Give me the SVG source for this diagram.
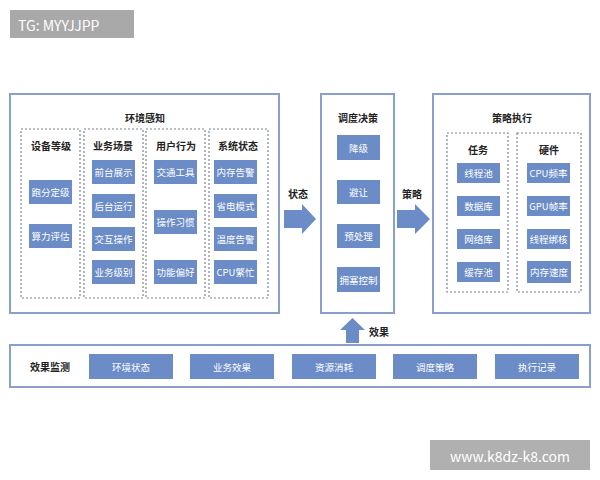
<svg xmlns="http://www.w3.org/2000/svg" width="600" height="480" viewBox="0 0 600 480">
<style>
text{font-family:"Noto Sans CJK SC","Liberation Sans",sans-serif;}
.frame{fill:#fff;stroke:#8aa0cc;stroke-width:2}
.dash{fill:none;stroke:#7d8590;stroke-width:1.2;stroke-dasharray:2,2}
.b{fill:#6b8cc7}
.bt{fill:#fff;font-size:9.5px;text-anchor:middle;dominant-baseline:central}
.h{fill:#222;font-size:10px;font-weight:bold;text-anchor:middle;dominant-baseline:central}
.arr{fill:#6b8cc7}
</style>
<rect width="600" height="480" fill="#fff"/>
<g id="watermark1"><rect x="10" y="10" width="124" height="28" fill="#a9a9a9"/><text x="18" y="25" font-size="14" fill="#fff" dominant-baseline="central">TG: MYYJJPP</text></g>
<g id="watermark2"><rect x="430" y="440" width="160" height="30" fill="#b0b0b0"/><text x="510" y="456" font-size="14" fill="#fff" text-anchor="middle" dominant-baseline="central">www.k8dz-k8.com</text></g>

<g id="env">
<rect class="frame" x="10" y="94" width="269" height="219"/>
<text class="h" x="145" y="117" font-size="11">环境感知</text>
<rect class="dash" x="21" y="129" width="59" height="169"/>
<rect class="dash" x="84" y="129" width="59" height="169"/>
<rect class="dash" x="146" y="129" width="59" height="169"/>
<rect class="dash" x="209" y="129" width="59" height="169"/>
<text class="h" x="51" y="145">设备等级</text>
<text class="h" x="113" y="145">业务场景</text>
<text class="h" x="176" y="145">用户行为</text>
<text class="h" x="238" y="145">系统状态</text>
<rect class="b" x="29" y="180" width="43" height="24"/><text class="bt" x="50.5" y="192">跑分定级</text>
<rect class="b" x="29" y="224" width="43" height="24"/><text class="bt" x="50.5" y="236">算力评估</text>
<rect class="b" x="92" y="160" width="43" height="24"/><text class="bt" x="113.5" y="172">前台展示</text>
<rect class="b" x="92" y="194" width="43" height="24"/><text class="bt" x="113.5" y="206">后台运行</text>
<rect class="b" x="92" y="227" width="43" height="24"/><text class="bt" x="113.5" y="239">交互操作</text>
<rect class="b" x="92" y="260" width="43" height="24"/><text class="bt" x="113.5" y="272">业务级别</text>
<rect class="b" x="154" y="160" width="43" height="24"/><text class="bt" x="175.5" y="172">交通工具</text>
<rect class="b" x="154" y="210" width="43" height="24"/><text class="bt" x="175.5" y="222">操作习惯</text>
<rect class="b" x="154" y="260" width="43" height="24"/><text class="bt" x="175.5" y="272">功能偏好</text>
<rect class="b" x="214" y="160" width="43" height="24"/><text class="bt" x="235.5" y="172">内存告警</text>
<rect class="b" x="214" y="194" width="43" height="24"/><text class="bt" x="235.5" y="206">省电模式</text>
<rect class="b" x="214" y="227" width="43" height="24"/><text class="bt" x="235.5" y="239">温度告警</text>
<rect class="b" x="214" y="260" width="43" height="24"/><text class="bt" x="235.5" y="272">CPU繁忙</text>
</g>

<g id="decide">
<rect class="frame" x="321" y="94" width="73" height="219"/>
<text class="h" x="358" y="117" font-size="11">调度决策</text>
<rect class="b" x="337" y="135" width="43" height="25"/><text class="bt" x="358.5" y="147.5">降级</text>
<rect class="b" x="337" y="180" width="43" height="24"/><text class="bt" x="358.5" y="192">避让</text>
<rect class="b" x="337" y="224" width="43" height="24"/><text class="bt" x="358.5" y="236">预处理</text>
<rect class="b" x="337" y="267" width="43" height="25"/><text class="bt" x="358.5" y="279.5">拥塞控制</text>
</g>

<g id="exec">
<rect class="frame" x="433" y="94" width="157" height="219"/>
<text class="h" x="512" y="117" font-size="11">策略执行</text>
<rect class="dash" x="447" y="133" width="61" height="159"/>
<rect class="dash" x="517" y="133" width="64" height="159"/>
<text class="h" x="478" y="149">任务</text>
<text class="h" x="549" y="149">硬件</text>
<rect class="b" x="457" y="163" width="43" height="20"/><text class="bt" x="478.5" y="173">线程池</text>
<rect class="b" x="457" y="196" width="43" height="20"/><text class="bt" x="478.5" y="206">数据库</text>
<rect class="b" x="457" y="229" width="43" height="20"/><text class="bt" x="478.5" y="239">网络库</text>
<rect class="b" x="457" y="262" width="43" height="20"/><text class="bt" x="478.5" y="272">缓存池</text>
<rect class="b" x="527" y="163" width="43" height="20"/><text class="bt" x="548.5" y="173">CPU频率</text>
<rect class="b" x="527" y="196" width="43" height="20"/><text class="bt" x="548.5" y="206">GPU帧率</text>
<rect class="b" x="527" y="229" width="43" height="20"/><text class="bt" x="548.5" y="239">线程绑核</text>
<rect class="b" x="527" y="261" width="44" height="22"/><text class="bt" x="549" y="272">内存速度</text>
</g>

<g id="monitor">
<rect class="frame" x="10" y="345" width="580" height="42"/>
<text class="h" x="50" y="366">效果监测</text>
<rect class="b" x="89" y="354" width="84" height="25"/><text class="bt" x="131" y="366.5">环境状态</text>
<rect class="b" x="190" y="354" width="84" height="25"/><text class="bt" x="232" y="366.5">业务效果</text>
<rect class="b" x="292" y="354" width="84" height="25"/><text class="bt" x="334" y="366.5">资源消耗</text>
<rect class="b" x="393" y="354" width="84" height="25"/><text class="bt" x="435" y="366.5">调度策略</text>
<rect class="b" x="495" y="354" width="84" height="25"/><text class="bt" x="537" y="366.5">执行记录</text>
</g>

<g id="connectors">
<polygon class="arr" points="284,210 302,210 302,204 316,219 302,234 302,228 284,228"/>
<text class="h" x="298" y="193">状态</text>
<polygon class="arr" points="397,210 415,210 415,204 430,219 415,234 415,228 397,228"/>
<text class="h" x="412" y="193">策略</text>
<polygon class="arr" points="346,343 346,330 340,330 352.5,318 365,330 359,330 359,343"/>
<text class="h" x="379" y="331">效果</text>
</g>
</svg>
